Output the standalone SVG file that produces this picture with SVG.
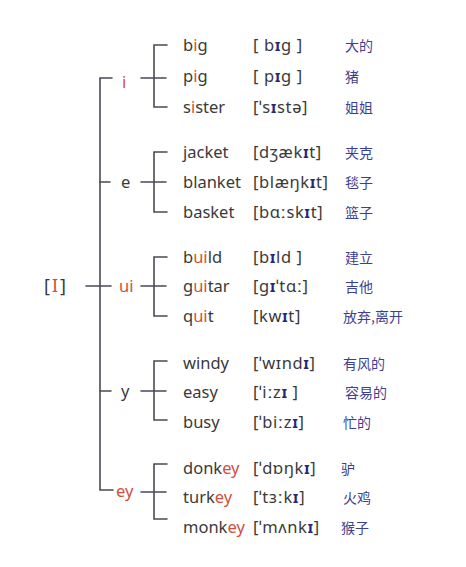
<svg xmlns="http://www.w3.org/2000/svg" width="466" height="567" viewBox="0 0 466 567">
<style>
.ln{stroke:#4a4a58;stroke-width:1.6;fill:none;stroke-linecap:round}
.w{font-family:"Noto Sans","Liberation Sans",sans-serif;font-size:16.5px;fill:#3a3a3a}
.p{font-family:"Noto Sans","Liberation Sans",sans-serif;font-size:16.5px;fill:#3a3a3a;letter-spacing:0.6px}
.c{font-family:"Noto Sans CJK SC","Noto Sans",sans-serif;font-size:14px;fill:#3f3f8f}
.r{fill:#d0503a}
.b{fill:#27277a;font-weight:bold}
.k{font-family:"Noto Sans","Liberation Sans",sans-serif;font-size:18px;fill:#3a3a3a;letter-spacing:2px}
</style>
<rect width="466" height="567" fill="#ffffff"/>
<g id="connectors">
<path class="ln" d="M112 78 H100 V490 H113"/>
<path class="ln" d="M100 182 H110 M100 391 H111 M86 286 H111"/>
<path class="ln" d="M141 78 H166 M167 45 H154 V107 H167"/>
<path class="ln" d="M141 182 H166 M167 152 H154 V212 H167"/>
<path class="ln" d="M141 286 H166 M167 257 H154 V316 H167"/>
<path class="ln" d="M141 391 H166 M167 361 H154 V420 H167"/>
<path class="ln" d="M141 492 H166 M167 464 H154 V519 H167"/>
</g>
<g id="root"><text class="k" x="44" y="292">[<tspan class="r">I</tspan>]</text></g>
<g id="n-i"><text class="w r" x="122" y="88">i</text></g>
<g id="n-e"><text class="w" x="121" y="188">e</text></g>
<g id="n-ui"><text class="w r" x="119" y="292">ui</text></g>
<g id="n-y"><text class="w" x="121" y="397">y</text></g>
<g id="n-ey"><text class="w r" x="116" y="497">ey</text></g>

<g id="big"><text class="w" x="183" y="51">b<tspan class="r">i</tspan>g</text><text class="p" x="253" y="51">[ b<tspan class="b">ɪ</tspan>g ]</text><text class="c" x="345" y="51">大的</text></g>
<g id="pig"><text class="w" x="183" y="82">p<tspan class="r">i</tspan>g</text><text class="p" x="253" y="82">[ p<tspan class="b">ɪ</tspan>g ]</text><text class="c" x="345" y="82">猪</text></g>
<g id="sister"><text class="w" x="183" y="113">s<tspan class="r">i</tspan>ster</text><text class="p" x="253" y="113">[ˈs<tspan class="b">ɪ</tspan>stə]</text><text class="c" x="345" y="113">姐姐</text></g>

<g id="jacket"><text class="w" x="183" y="158">jacket</text><text class="p" x="253" y="158">[dʒæk<tspan class="b">ɪ</tspan>t]</text><text class="c" x="345" y="158">夹克</text></g>
<g id="blanket"><text class="w" x="183" y="188">blanket</text><text class="p" x="253" y="188">[blæŋk<tspan class="b">ɪ</tspan>t]</text><text class="c" x="345" y="188">毯子</text></g>
<g id="basket"><text class="w" x="183" y="218">basket</text><text class="p" x="253" y="218">[bɑːsk<tspan class="b">ɪ</tspan>t]</text><text class="c" x="345" y="218">篮子</text></g>

<g id="build"><text class="w" x="183" y="263">b<tspan class="r">ui</tspan>ld</text><text class="p" x="253" y="263">[b<tspan class="b">ɪ</tspan>ld ]</text><text class="c" x="345" y="263">建立</text></g>
<g id="guitar"><text class="w" x="183" y="292">g<tspan class="r">ui</tspan>tar</text><text class="p" x="253" y="292">[g<tspan class="b">ɪ</tspan>ˈtɑː]</text><text class="c" x="345" y="292">吉他</text></g>
<g id="quit"><text class="w" x="183" y="322">q<tspan class="r">ui</tspan>t</text><text class="p" x="253" y="322">[kw<tspan class="b">ɪ</tspan>t]</text><text class="c" x="343" y="322">放弃,离开</text></g>

<g id="windy"><text class="w" x="183" y="369">windy</text><text class="p" x="253" y="369">[ˈwɪnd<tspan class="b">ɪ</tspan>]</text><text class="c" x="343" y="369">有风的</text></g>
<g id="easy"><text class="w" x="183" y="398">easy</text><text class="p" x="253" y="398">[ˈiːz<tspan class="b">ɪ</tspan> ]</text><text class="c" x="345" y="398">容易的</text></g>
<g id="busy"><text class="w" x="183" y="428">busy</text><text class="p" x="253" y="428">[ˈbiːz<tspan class="b">ɪ</tspan>]</text><text class="c" x="343" y="428">忙的</text></g>

<g id="donkey"><text class="w" x="183" y="474">donk<tspan class="r">ey</tspan></text><text class="p" x="253" y="474">[ˈdɒŋk<tspan class="b">ɪ</tspan>]</text><text class="c" x="341" y="474">驴</text></g>
<g id="turkey"><text class="w" x="183" y="503">turk<tspan class="r">ey</tspan></text><text class="p" x="253" y="503">[ˈtɜːk<tspan class="b">ɪ</tspan>]</text><text class="c" x="343" y="503">火鸡</text></g>
<g id="monkey"><text class="w" x="183" y="533">monk<tspan class="r">ey</tspan></text><text class="p" x="253" y="533">[ˈmʌnk<tspan class="b">ɪ</tspan>]</text><text class="c" x="341" y="533">猴子</text></g>
</svg>
